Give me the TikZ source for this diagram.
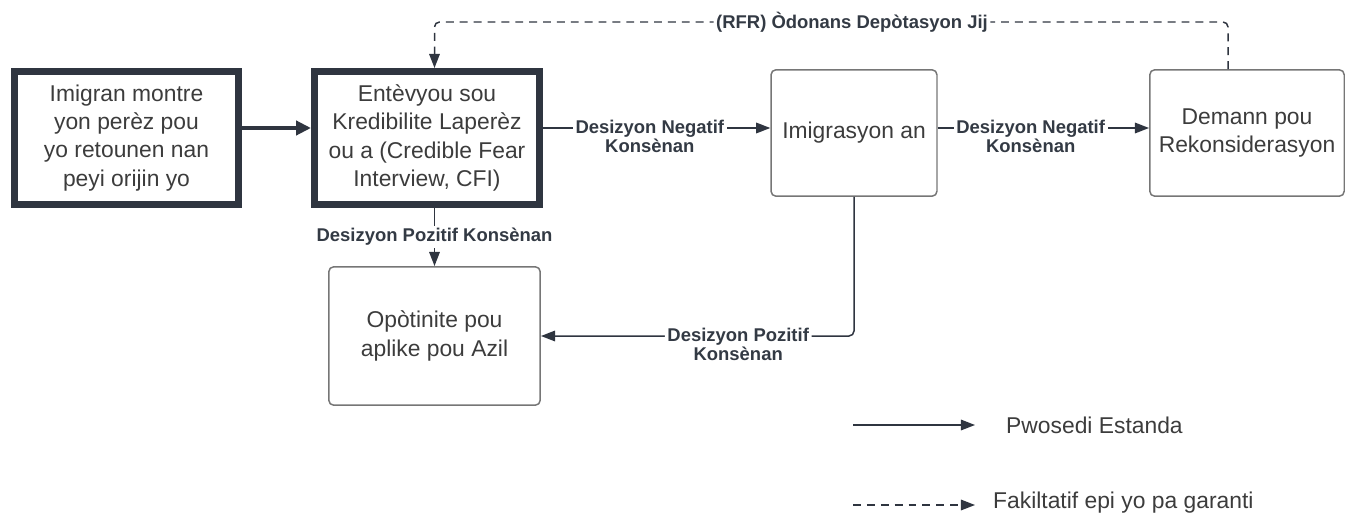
\documentclass[tikz,border=0pt]{standalone}
\usepackage{fontspec}
\setmainfont{Liberation Sans}
\usetikzlibrary{arrows.meta}
\definecolor{edge}{HTML}{2F3540}
\definecolor{boxline}{HTML}{767676}
\definecolor{ink}{HTML}{3C3C3C}
\definecolor{lblink}{HTML}{333A44}
\begin{document}
\begin{tikzpicture}[x=0.02cm,y=-0.02cm,
	mainbox/.style={draw=edge,line width=4pt,align=center,text=ink,font=\fontsize{13}{16}\selectfont,minimum width=4.5cm,minimum height=2.66cm},
	stepbox/.style={draw=boxline,line width=0.85pt,rounded corners=0.1cm,align=center,text=ink,font=\fontsize{13}{16}\selectfont},
	stdarrow/.style={draw=edge,line width=0.85pt,-{Triangle[length=8pt,width=6pt]}},
	optarrow/.style={stdarrow,dash pattern=on 4.5pt off 3.4pt},
	lbl/.style={fill=white,inner sep=1.5pt,align=center,text=lblink,font=\bfseries\fontsize{10.5}{10.5}\selectfont},
	legend/.style={anchor=west,text=ink,font=\fontsize{13}{16}\selectfont}]
	\useasboundingbox (0,0) rectangle (1348,517);
	\coordinate (row) at (0,128);
	\node[mainbox] (imigran) at (126.5,138) {Imigran montre\\yon perèz pou\\yo retounen nan\\peyi orijin yo};
	\node[mainbox] (cfi) at (427,138) {Entèvyou sou\\Kredibilite Laperèz\\ou a (Credible Fear\\Interview, CFI)};
	\node[stepbox,minimum width=3.32cm,minimum height=2.53cm] (imig) at (854,133) {Imigrasyon an};
	\node[stepbox,minimum width=3.89cm,minimum height=2.53cm] (rekon) at (1247,133) {Demann pou\\Rekonsiderasyon};
	\node[stepbox,minimum width=4.23cm,minimum height=2.77cm] (azil) at (434.5,336) {Opòtinite pou\\aplike pou Azil};
	\draw[stdarrow,line width=2.8pt,-{Triangle[length=8.5pt,width=8pt]}] (imigran.east |- row) -- (cfi.west |- row);
	\draw[stdarrow] (cfi.east |- row) -- node[lbl,pos=0.47,yshift=-0.17cm]{Desizyon Negatif\\Konsènan} (imig.west |- row);
	\draw[stdarrow] (imig.east |- row) -- node[lbl,pos=0.44,yshift=-0.17cm]{Desizyon Negatif\\Konsènan} (rekon.west |- row);
	\draw[stdarrow] (cfi.south -| azil.north) -- node[lbl,midway]{Desizyon Pozitif Konsènan} (azil.north);
	\draw[stdarrow,rounded corners=0.1cm] (imig.south) |- node[lbl,pos=0.685,yshift=-0.17cm]{Desizyon Pozitif\\Konsènan} (azil.east);
	\coordinate (rfr) at (852,22);
	\draw[optarrow,rounded corners=0.1cm] ([xshift=-0.38cm]rekon.north) |- (rfr) node[lbl]{(RFR) Òdonans Depòtasyon Jij} -| (cfi.north -| azil.north);
	\coordinate (std1) at (853,425);
	\coordinate (std2) at (975,425);
	\coordinate (opt1) at (853,505);
	\coordinate (opt2) at (975,505);
	\draw[stdarrow] (std1) -- (std2);
	\draw[optarrow] (opt1) -- (opt2);
	\node[legend] (stdtxt) at (1000,425) {Pwosedi Estanda};
	\node[legend] (opttxt) at (987,503) {Fakiltatif epi yo pa garanti};
\end{tikzpicture}
\end{document}
